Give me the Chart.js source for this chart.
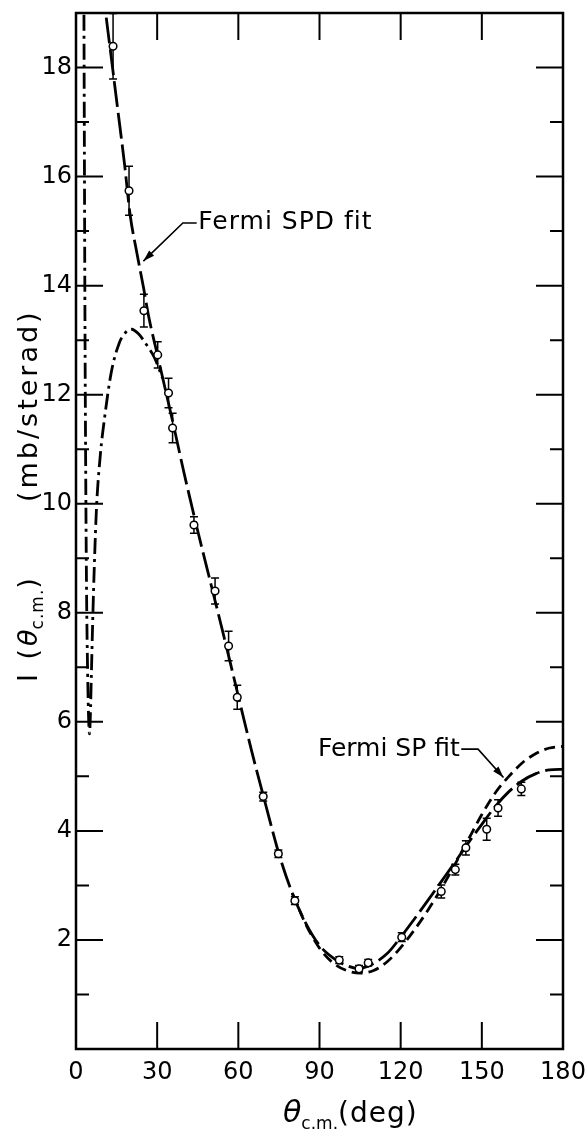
<!DOCTYPE html>
<html>
<head>
<meta charset="utf-8">
<script src="https://cdn.jsdelivr.net/npm/chart.js@4.4.1/dist/chart.umd.min.js"></script>
<style>
  html, body { margin: 0; padding: 0; background: #fff; }
  #wrap { width: 585px; height: 1140px; position: relative; }
</style>
</head>
<body>
<div id="wrap"><canvas id="chart-cross"></canvas></div>
<script>
// Measured points (theta c.m. in deg, I in mb/sterad, error)
const thetaObs = [13.7, 19.6, 25.1, 30.2, 34.2, 35.7, 43.6, 51.4, 56.4, 59.6, 69.2, 74.8, 80.9, 97.3, 104.6, 108.0, 120.4, 135.0, 140.2, 144.1, 151.8, 156.0, 164.6];
const crossObs = [18.39, 15.74, 13.54, 12.73, 12.03, 11.39, 9.61, 8.40, 7.39, 6.45, 4.63, 3.58, 2.72, 1.63, 1.47, 1.58, 2.05, 2.89, 3.29, 3.69, 4.03, 4.42, 4.77];
const errObs = [0.6, 0.45, 0.3, 0.24, 0.27, 0.27, 0.15, 0.24, 0.27, 0.22, 0.08, 0.07, 0.07, 0.06, 0.06, 0.06, 0.08, 0.12, 0.1, 0.13, 0.2, 0.15, 0.12];

// Fermi SPD fit (long dashes)
const spdTheta = [10, 11, 13, 15, 18, 20, 22.5, 25, 27, 30, 33, 36, 40, 45, 50, 55, 60, 65, 70, 75, 80, 85, 90, 95, 100, 104, 108, 115, 120, 125, 130, 135, 140, 145, 150, 155, 160, 165, 170, 175, 180];
const spdValue = [19.5, 19.0, 18.2, 17.4, 16.2, 15.3, 14.6, 13.95, 13.4, 12.75, 12.1, 11.45, 10.55, 9.5, 8.5, 7.5, 6.47, 5.45, 4.5, 3.58, 2.85, 2.3, 1.9, 1.67, 1.53, 1.48, 1.52, 1.75, 2.05, 2.38, 2.72, 3.07, 3.42, 3.78, 4.12, 4.45, 4.72, 4.92, 5.05, 5.12, 5.13];

// Fermi SP fit (short dashes)
const spTheta = [80, 85, 90, 95, 100, 105, 110, 115, 120, 125, 130, 135, 140, 145, 150, 155, 160, 165, 170, 175, 180];
const spValue = [2.85, 2.28, 1.85, 1.58, 1.44, 1.39, 1.44, 1.6, 1.86, 2.18, 2.54, 2.94, 3.38, 3.84, 4.3, 4.7, 5.0, 5.25, 5.42, 5.52, 5.55];

// forward-angle dash-dot curve
const ddTheta = [2.9, 3.1, 3.3, 3.6, 3.9, 4.3, 4.7, 5.0, 5.3, 5.7, 6.2, 6.8, 7.6, 9.0, 10.5, 13.0, 16.0, 18.5, 20.5, 23.0, 26.0, 29.0, 32.0];
const ddValue = [19.5, 16.5, 13.5, 10.5, 8.4, 6.9, 6.0, 5.78, 6.1, 6.9, 7.9, 8.9, 9.95, 10.9, 11.55, 12.4, 12.95, 13.15, 13.2, 13.12, 12.92, 12.68, 12.3];

const xTickLabels = [0, 30, 60, 90, 120, 150, 180];
const yTickLabels = [2, 4, 6, 8, 10, 12, 14, 16, 18];

const FONT = 'DejaVu Sans';

function toXY(xs, ys) {
  return xs.map((x, i) => ({ x: x, y: ys[i] }));
}

// sin padding automatico de etiquetas, area fija
function fixBox(s, size) {
  if (s.isHorizontal()) s.height = size; else s.width = size;
  s.paddingLeft = 0; s.paddingRight = 0; s.paddingTop = 0; s.paddingBottom = 0;
}

/**
 * Barras de error, marco con ticks hacia dentro, titulos y anotaciones
 */
const decorPlugin = {
  id: 'decor',
  beforeDatasetDraw(chart, args) {
    if (args.index !== 0) return;
    const { ctx, scales: { x, y } } = chart;
    ctx.save();
    ctx.strokeStyle = '#000';
    ctx.lineWidth = 1.5;
    thetaObs.forEach((t, i) => {
      const px = x.getPixelForValue(t);
      const top = y.getPixelForValue(crossObs[i] + errObs[i]);
      const bot = y.getPixelForValue(crossObs[i] - errObs[i]);
      ctx.beginPath();
      ctx.moveTo(px, top); ctx.lineTo(px, bot);
      ctx.moveTo(px - 4, top); ctx.lineTo(px + 4, top);
      ctx.moveTo(px - 4, bot); ctx.lineTo(px + 4, bot);
      ctx.stroke();
    });
    ctx.restore();
  },
  afterDraw(chart) {
    const { ctx, chartArea: a, scales: { x, y } } = chart;
    ctx.save();
    ctx.strokeStyle = '#000';
    ctx.fillStyle = '#000';

    // marco
    ctx.lineWidth = 2.5;
    ctx.strokeRect(a.left, a.top, a.right - a.left, a.bottom - a.top);

    // ticks hacia dentro
    ctx.lineWidth = 2;
    ctx.beginPath();
    xTickLabels.forEach(v => {
      if (v === 0 || v === 180) return;
      const px = x.getPixelForValue(v);
      ctx.moveTo(px, a.bottom); ctx.lineTo(px, a.bottom - 27);
      ctx.moveTo(px, a.top); ctx.lineTo(px, a.top + 27);
    });
    for (let v = 1; v < 19; v++) {
      const py = y.getPixelForValue(v);
      const len = v % 2 === 0 ? 27 : 13;
      ctx.moveTo(a.left, py); ctx.lineTo(a.left + len, py);
      ctx.moveTo(a.right, py); ctx.lineTo(a.right - len, py);
    }
    ctx.stroke();

    // titulos de ejes
    ctx.textBaseline = 'alphabetic';
    ctx.textAlign = 'left';
    const runs = (list, x0, y0) => {
      let cx = x0;
      list.forEach(r => {
        ctx.font = r.font;
        ctx.letterSpacing = r.sp || '0px';
        ctx.fillText(r.text, cx, y0 + (r.dy || 0));
        cx += ctx.measureText(r.text).width;
      });
      ctx.letterSpacing = '0px';
    };
    runs([
      { text: 'θ', font: 'italic 30px ' + FONT },
      { text: 'c.m.', font: '17px ' + FONT, dy: 7 },
      { text: '(deg)', font: '28px ' + FONT, sp: '1px' }
    ], 283, 1122);

    ctx.save();
    ctx.translate(37, 682);
    ctx.rotate(-Math.PI / 2);
    runs([
      { text: 'I (', font: '27px ' + FONT, sp: '3px' },
      { text: 'θ', font: 'italic 27px ' + FONT },
      { text: 'c.m.', font: '17px ' + FONT, dy: 6, sp: '1px' },
      { text: ')', font: '27px ' + FONT }
    ], 0, 0);
    ctx.restore();
    ctx.save();
    ctx.translate(37, 502);
    ctx.rotate(-Math.PI / 2);
    runs([{ text: '(mb/sterad)', font: '27px ' + FONT, sp: '3px' }], 0, 0);
    ctx.restore();

    // anotaciones con flecha
    const arrow = (tx, ty, ex, ey, sx, sy) => {
      ctx.lineWidth = 1.6;
      ctx.beginPath();
      ctx.moveTo(sx, sy); ctx.lineTo(ex, ey); ctx.lineTo(tx, ty);
      ctx.stroke();
      const ang = Math.atan2(ty - ey, tx - ex);
      ctx.beginPath();
      ctx.moveTo(tx, ty);
      ctx.lineTo(tx - 12 * Math.cos(ang - 0.3), ty - 12 * Math.sin(ang - 0.3));
      ctx.lineTo(tx - 12 * Math.cos(ang + 0.3), ty - 12 * Math.sin(ang + 0.3));
      ctx.closePath();
      ctx.fill();
    };
    ctx.font = '25px ' + FONT;
    ctx.textBaseline = 'middle';
    ctx.letterSpacing = '1px';
    ctx.fillText('Fermi SPD fit', x.getPixelForValue(45.2), y.getPixelForValue(15.15));
    ctx.letterSpacing = '0px';
    ctx.fillText('Fermi SP fit', x.getPixelForValue(89.4), y.getPixelForValue(5.5));
    arrow(x.getPixelForValue(24.9), y.getPixelForValue(14.45),
          x.getPixelForValue(39.5), y.getPixelForValue(15.15),
          x.getPixelForValue(44.6), y.getPixelForValue(15.15));
    arrow(x.getPixelForValue(158.0), y.getPixelForValue(4.98),
          x.getPixelForValue(148.6), y.getPixelForValue(5.5),
          x.getPixelForValue(142.4), y.getPixelForValue(5.5));
    ctx.restore();
  }
};

const curveBase = {
  borderColor: '#000',
  borderWidth: 2.8,
  pointRadius: 0,
  fill: false,
  cubicInterpolationMode: 'monotone'
};

new Chart(document.getElementById('chart-cross'), {
  type: 'line',
  data: {
    datasets: [
      {
        label: 'Datos',
        data: toXY(thetaObs, crossObs),
        showLine: false,
        pointRadius: 3.8,
        pointBackgroundColor: '#fff',
        pointBorderColor: '#000',
        pointBorderWidth: 1.5,
        order: 0
      },
      Object.assign({ label: 'Fermi SPD fit', data: toXY(spdTheta, spdValue), borderDash: [26, 6], order: 1 }, curveBase),
      Object.assign({ label: 'Fermi SP fit', data: toXY(spTheta, spValue), borderDash: [11, 6], order: 2 }, curveBase),
      Object.assign({ label: 'dash-dot', data: toXY(ddTheta, ddValue), borderDash: [16, 5, 3, 5], order: 3 }, curveBase)
    ]
  },
  options: {
    responsive: true,
    maintainAspectRatio: false,
    animation: false,
    layout: { padding: { top: 13, right: 22, left: 0, bottom: 0 } },
    plugins: { legend: { display: false }, tooltip: { enabled: false } },
    scales: {
      x: {
        type: 'linear',
        min: 0,
        max: 180,
        afterFit: s => fixBox(s, 91),
        afterBuildTicks: s => { s.ticks = xTickLabels.map(v => ({ value: v })); },
        ticks: { color: '#000', font: { family: FONT, size: 24 }, padding: 9, maxRotation: 0 },
        grid: { display: false, drawTicks: false },
        border: { display: false }
      },
      y: {
        type: 'linear',
        min: 0,
        max: 19,
        afterFit: s => fixBox(s, 76),
        afterBuildTicks: s => { s.ticks = yTickLabels.map(v => ({ value: v })); },
        ticks: { color: '#000', font: { family: FONT, size: 24 }, padding: 4 },
        grid: { display: false, drawTicks: false },
        border: { display: false }
      }
    }
  },
  plugins: [decorPlugin]
});
</script>
</body>
</html>
